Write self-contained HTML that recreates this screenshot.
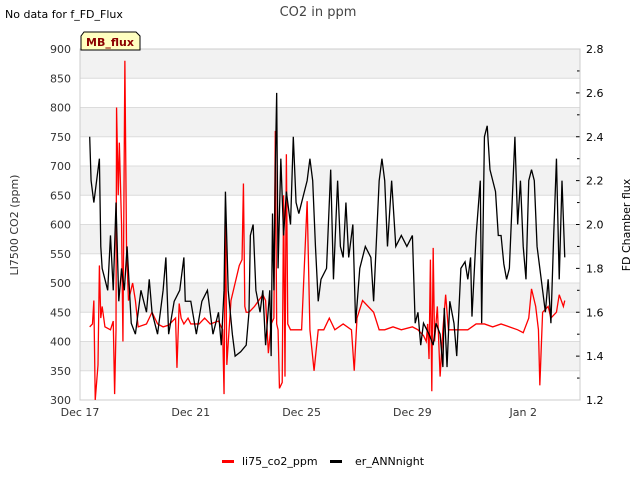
<!DOCTYPE html>
<html><head><meta charset="utf-8"><style>
body{margin:0;background:#fff;font-family:"DejaVu Sans","Liberation Sans",sans-serif}
svg text{font-family:"DejaVu Sans","Liberation Sans",sans-serif}
</style></head><body>
<svg id="c" width="640" height="480" xmlns="http://www.w3.org/2000/svg">
<text x="5" y="18" font-size="11" fill="#000">No data for f_FD_Flux</text>
<text x="318" y="16" font-size="13" fill="#444" text-anchor="middle">CO2 in ppm</text>
<g id="bands"></g>
<g id="axes"></g>
<g id="series"></g>
<g>
<path d="M84,32 L136,32 L140,36 L140,50 L81,50 L81,36 Z" fill="#ffffc0" stroke="#000" stroke-width="1"/>
<text x="110" y="46" font-size="11" font-weight="bold" fill="#8b0000" text-anchor="middle">MB_flux</text></g>
<text transform="translate(18,225) rotate(-90)" font-size="11" fill="#333" text-anchor="middle">LI7500 CO2 (ppm)</text>
<text transform="translate(630,225) rotate(-90)" font-size="11" fill="#000" text-anchor="middle">FD Chamber flux</text>
<g>
<g><rect x="222" y="460" width="12" height="3" fill="#f00"/><text x="242" y="465" font-size="11">li75_co2_ppm</text></g>
<g><rect x="330" y="460" width="12" height="3" fill="#000"/><text x="355" y="465" font-size="11">er_ANNnight</text></g>
</g>
</svg>
<script>
const xTickLabels=["Dec 17","Dec 21","Dec 25","Dec 29","Jan 2"];
const xTickDays=[0,4,8,12,16];
const leftTicks=[300,350,400,450,500,550,600,650,700,750,800,850,900];
const rightTicks=[1.2,1.4,1.6,1.8,2.0,2.2,2.4,2.6,2.8];
const redT=[0.35,0.45,0.5,0.55,0.65,0.7,0.75,0.8,0.9,1.1,1.2,1.25,1.3,1.32,1.38,1.42,1.5,1.55,1.62,1.68,1.75,1.9,2.0,2.1,2.4,2.5,2.6,2.8,3.0,3.2,3.45,3.5,3.58,3.65,3.75,3.9,4.0,4.3,4.5,4.7,5.0,5.15,5.2,5.25,5.3,5.45,5.75,5.85,5.9,5.95,6.0,6.1,6.3,6.6,6.7,6.8,6.9,7.0,7.05,7.1,7.15,7.2,7.3,7.35,7.4,7.45,7.5,7.6,8.0,8.2,8.3,8.45,8.6,8.8,9.0,9.2,9.5,9.8,9.9,10.0,10.2,10.6,10.8,11.0,11.3,11.6,12.0,12.2,12.4,12.5,12.55,12.6,12.65,12.7,12.75,12.8,12.9,13.0,13.1,13.2,13.3,13.5,14.0,14.3,14.6,14.9,15.2,15.5,15.8,16.0,16.2,16.3,16.45,16.55,16.6,16.7,16.9,17.0,17.2,17.3,17.45,17.5];
const redV=[425,430,470,300,360,530,440,460,425,420,435,310,420,800,650,740,600,400,880,560,470,500,470,425,430,440,450,430,425,428,440,355,465,440,430,440,430,430,440,430,435,420,310,630,360,470,530,540,670,460,450,450,460,480,470,380,430,440,760,430,420,320,330,650,340,720,430,420,420,640,420,350,420,420,440,420,430,420,350,440,470,450,420,420,425,420,425,420,410,400,430,370,540,315,560,400,460,340,420,480,420,420,420,430,430,425,430,425,420,415,440,490,460,420,325,450,460,440,450,480,460,470];
const blackT=[0.35,0.4,0.5,0.6,0.7,0.75,0.8,0.9,1.0,1.1,1.2,1.3,1.4,1.5,1.6,1.7,1.85,2.0,2.2,2.4,2.5,2.6,2.8,3.0,3.1,3.2,3.4,3.6,3.75,3.8,4.0,4.2,4.4,4.6,4.8,5.0,5.1,5.2,5.25,5.35,5.5,5.6,5.8,6.0,6.1,6.15,6.25,6.35,6.5,6.6,6.7,6.85,6.9,6.95,7.0,7.05,7.1,7.15,7.25,7.35,7.45,7.6,7.7,7.8,7.9,8.0,8.2,8.3,8.4,8.5,8.6,8.7,8.9,9.05,9.15,9.3,9.4,9.5,9.6,9.7,9.85,9.95,10.1,10.3,10.5,10.6,10.8,10.9,11.0,11.1,11.25,11.4,11.6,11.8,12.0,12.1,12.2,12.3,12.4,12.6,12.75,12.85,13.0,13.1,13.15,13.25,13.35,13.5,13.6,13.75,13.9,14.0,14.1,14.15,14.3,14.45,14.5,14.6,14.7,14.8,14.9,15.0,15.1,15.2,15.3,15.4,15.5,15.6,15.7,15.8,15.9,16.0,16.1,16.2,16.3,16.4,16.5,16.6,16.7,16.8,16.9,17.0,17.1,17.2,17.3,17.4,17.5];
const blackV=[2.4,2.2,2.1,2.2,2.3,1.9,1.8,1.75,1.7,1.95,1.7,2.1,1.65,1.8,1.7,1.9,1.55,1.5,1.7,1.6,1.75,1.6,1.5,1.7,1.85,1.5,1.65,1.7,1.85,1.65,1.65,1.5,1.65,1.7,1.5,1.6,1.45,1.7,2.15,1.7,1.5,1.4,1.42,1.45,1.6,1.95,2.0,1.7,1.6,1.7,1.45,1.7,1.4,2.05,1.7,2.25,2.6,1.8,2.3,1.95,2.15,2.0,2.4,2.1,2.05,2.1,2.2,2.3,2.2,1.9,1.65,1.75,1.8,2.25,1.75,2.2,1.9,1.85,2.1,1.85,2.0,1.55,1.8,1.9,1.85,1.65,2.2,2.3,2.2,1.9,2.2,1.9,1.95,1.9,1.95,1.55,1.6,1.45,1.55,1.5,1.45,1.55,1.5,1.35,1.62,1.35,1.65,1.55,1.4,1.8,1.83,1.75,1.85,1.58,1.95,2.2,1.55,2.4,2.45,2.25,2.2,2.15,1.95,1.95,1.82,1.75,1.8,2.1,2.4,2.0,2.2,1.9,1.75,2.2,2.25,2.2,1.9,1.8,1.7,1.6,1.75,1.55,1.95,2.3,1.75,2.2,1.85];
const L=80,R=580,T=49,B=400,DMAX=18.05;
const ns="http://www.w3.org/2000/svg";
const xs=d=>L+d/DMAX*(R-L);
const yl=v=>B-(v-300)/600*(B-T);
const yr=v=>B-(v-1.2)/1.6*(B-T);
function mk(tag,attrs,parent){const e=document.createElementNS(ns,tag);for(const k in attrs)e.setAttribute(k,attrs[k]);document.getElementById(parent).appendChild(e);return e;}
const plot=mk('rect',{x:L,y:T,width:R-L,height:B-T,fill:'#fff'},'bands');


for(let i=0;i<leftTicks.length-1;i++){
  if((leftTicks.length-2-i)%2===0){
    const b=mk('rect',{x:L,y:yl(leftTicks[i+1]),width:R-L,height:yl(leftTicks[i])-yl(leftTicks[i+1]),fill:'#f2f2f2'},'bands');
    
    
  }
}
leftTicks.forEach(v=>{
  const g=mk('line',{x1:L,x2:R,y1:yl(v),y2:yl(v),stroke:'#dcdcdc','stroke-width':1},'axes');
  
  
  const t=mk('text',{x:L-9,y:yl(v)+4,'font-size':11,fill:'#333','text-anchor':'end'},'axes');
  t.textContent=v;
  
  
});
rightTicks.forEach(v=>{
  const tk=mk('line',{x1:R,x2:R-4,y1:yr(v),y2:yr(v),stroke:'#000'},'axes');
  
  
  const t=mk('text',{x:R+6,y:yr(v)+4,'font-size':11,fill:'#000'},'axes');
  t.textContent=v.toFixed(1);
  
  
});
for(let v=1.3;v<2.8;v+=0.2){
  const tk=mk('line',{x1:R,x2:R-3,y1:yr(v),y2:yr(v),stroke:'#000'},'axes');
  
  
}
xTickDays.forEach((d,i)=>{
  const t=mk('text',{x:xs(d),y:B+16,'font-size':11,fill:'#333','text-anchor':'middle'},'axes');
  t.textContent=xTickLabels[i];
  
  
});
const fr=mk('rect',{x:L,y:T,width:R-L,height:B-T,fill:'none',stroke:'#ccc'},'axes');


const pr=mk('polyline',{points:redT.map((d,i)=>xs(d)+','+yl(redV[i])).join(' '),fill:'none',stroke:'#f00','stroke-width':1.3},'series');


const pb=mk('polyline',{points:blackT.map((d,i)=>xs(d)+','+yr(blackV[i])).join(' '),fill:'none',stroke:'#000','stroke-width':1.3},'series');


</script>
</body></html>
